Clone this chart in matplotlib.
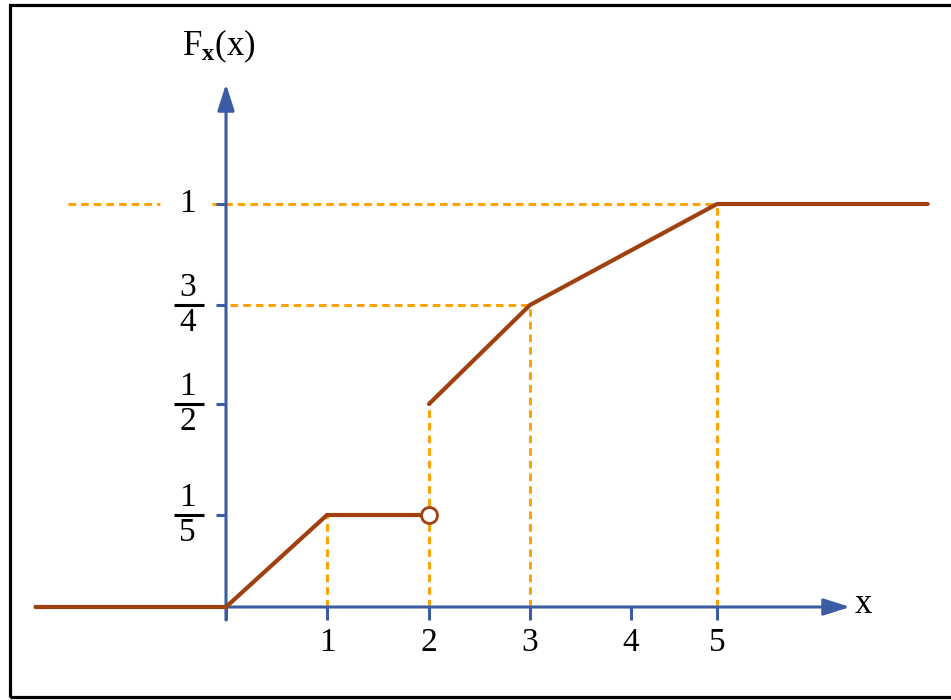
import numpy as np
import matplotlib
matplotlib.use("Agg")
import matplotlib.pyplot as plt
from matplotlib.transforms import ScaledTranslation
from matplotlib.patches import Rectangle

plt.rcParams['font.family'] = ['Liberation Serif', 'DejaVu Serif']
plt.rcParams['mathtext.fontset'] = 'custom'
plt.rcParams['mathtext.rm'] = 'Liberation Serif'
plt.rcParams['mathtext.it'] = 'Liberation Serif'
plt.rcParams['mathtext.bf'] = 'Liberation Serif:bold'
plt.rcParams['lines.scale_dashes'] = False

# ---- data ----
seg1_x = [-1.9, 0, 1, 2]
seg1_y = [0, 0, 0.2, 0.2]
seg2_x = [2, 3, 5, 7.45]
seg2_y = [0.5, 0.75, 1, 1]
open_pt_x = [2]
open_pt_y = [0.2]
x_ticks = [0, 1, 2, 3, 4, 5]
x_ticklabels = ['', '1', '2', '3', '4', '5']
y_int_ticks = [1]
y_frac_ticks = [0.2, 0.5, 0.75]
y_frac_num = ['1', '1', '3']
y_frac_den = ['5', '2', '4']
v_guides_x = [1, 2, 3, 5]
v_guides_top = [0.2, 0.5, 0.75, 1]

BROWN = '#A0400E'
BLUE = '#3B5BA4'
ORANGE = '#FFA000'

# ---- hand-drawn scale knots (layout) ----
xk = np.array([-3, 0, 1, 2, 3, 4, 5, 8], float)
xp = np.array([-77, 226, 327, 429, 530, 631, 717, 975], float)
yk = np.array([-1, 0, 0.2, 0.5, 0.75, 1, 2], float)
yp = np.array([-310, 93, 185, 296, 395, 496, 899], float)

fx = lambda v: np.interp(v, xk, xp)
ix = lambda v: np.interp(v, xp, xk)
fy = lambda v: np.interp(v, yk, yp)
iy = lambda v: np.interp(v, yp, yk)

W, H = 951, 700
fig = plt.figure(figsize=(W / 100, H / 100), dpi=100)
ax = fig.add_axes([0, 0, 1, 1])
ax.set_xscale('function', functions=(fx, ix))
ax.set_yscale('function', functions=(fy, iy))
ax.set_xlim(float(ix(0)), float(ix(W)))
ax.set_ylim(float(iy(0)), float(iy(H)))
ax.axis('off')

# frame
fig.patches.append(Rectangle((9.5, 3.5), 960, 692, transform=None,
                             fill=False, edgecolor='black', linewidth=2.3))

dash = (0, (5.5, 3.6))
GW = 2.1
# orange guides
for xv, top in zip(v_guides_x, v_guides_top):
    ax.plot([xv, xv], [0, top], color=ORANGE, lw=GW, linestyle=dash, zorder=2)
ax.plot([float(ix(68)), float(ix(160))], [1, 1], color=ORANGE, lw=GW, linestyle=dash, zorder=2)
ax.plot([float(ix(212)), 5], [1, 1], color=ORANGE, lw=GW, linestyle=dash, zorder=2)
ax.plot([float(ix(230)), 3], [0.75, 0.75], color=ORANGE, lw=GW, linestyle=dash, zorder=2)

# axes with arrows
ax.annotate('', xy=(float(ix(850)), 0), xytext=(float(ix(35)), 0),
            arrowprops=dict(arrowstyle='-|>,head_length=1.0,head_width=0.32',
                            mutation_scale=16, lw=2.2, color=BLUE,
                            shrinkA=0, shrinkB=0), zorder=3)
ax.annotate('', xy=(0, float(iy(H - 84))), xytext=(0, float(iy(H - 620))),
            arrowprops=dict(arrowstyle='-|>,head_length=1.0,head_width=0.32',
                            mutation_scale=16, lw=2.2, color=BLUE,
                            shrinkA=0, shrinkB=0), zorder=3)

# ticks
ax.plot(x_ticks, [0] * len(x_ticks), ls='none', marker=3, ms=9.4, mew=2.2,
        color=BLUE, zorder=3)
ax.plot([0] * 4, y_frac_ticks + y_int_ticks, ls='none', marker=0, ms=7.5, mew=2.2,
        color=BLUE, zorder=3)

# curve
ax.plot(seg1_x, seg1_y, color=BROWN, lw=3.0, solid_capstyle='butt',
        solid_joinstyle='miter', zorder=4)
ax.plot(seg2_x, seg2_y, color=BROWN, lw=3.0, solid_capstyle='round', zorder=4)
ax.plot(open_pt_x, open_pt_y, ls='none', marker='o', ms=11.5, mfc='white',
        mec=BROWN, mew=2.0, zorder=5)

FS = 24
# x tick labels
for xv, lab in zip(x_ticks, x_ticklabels):
    ax.annotate(lab, xy=(xv, 0), xytext=(0, -26), textcoords='offset points',
                ha='center', va='center', fontsize=FS)
# y labels
for yv in y_int_ticks:
    ax.annotate(str(yv), xy=(0, yv), xytext=(-27.5, 0), textcoords='offset points',
                ha='center', va='center', fontsize=FS)
for yv, n, d in zip(y_frac_ticks, y_frac_num, y_frac_den):
    ax.annotate(n, xy=(0, yv), xytext=(-27.5, 12.5), textcoords='offset points',
                ha='center', va='center', fontsize=FS)
    ax.annotate(d, xy=(0, yv), xytext=(-27.5, -13), textcoords='offset points',
                ha='center', va='center', fontsize=FS)
bar_tr = ax.transData + ScaledTranslation(-37.5 / 100, 0, fig.dpi_scale_trans)
ax.plot([0] * len(y_frac_ticks), y_frac_ticks, ls='none', marker='_', ms=22.3,
        mew=2.2, color='black', transform=bar_tr, zorder=3)

# axis labels
ax.annotate('x', xy=(float(ix(850)), 0), xytext=(10, 2), textcoords='offset points',
            ha='center', va='center', fontsize=FS + 1)
ax.annotate(r'$\mathrm{F}_{\mathbf{x}}\mathrm{(x)}$', xy=(0, float(iy(H - 84))),
            xytext=(-5, 27), textcoords='offset points',
            ha='center', va='center', fontsize=FS + 1)

fig.savefig('out.png', dpi=100)
